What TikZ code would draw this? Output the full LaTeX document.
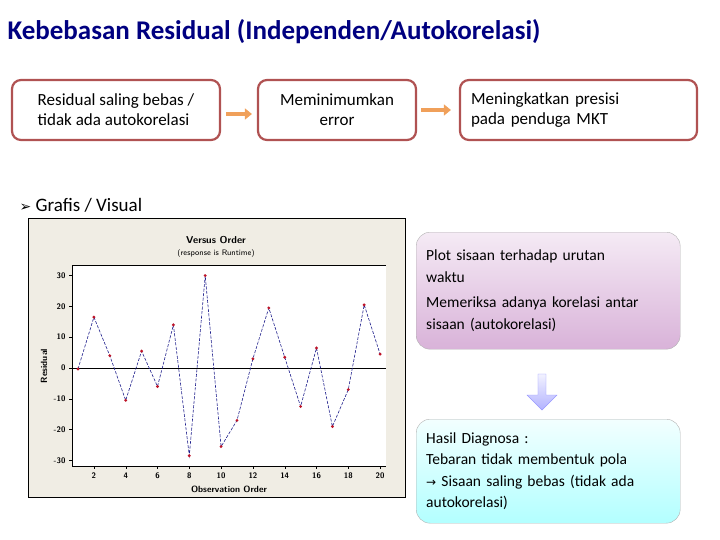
\documentclass[tikz,border=0pt]{standalone}
\usepackage{fontspec}
\setmainfont{Carlito}
\newfontfamily\symfont{DejaVu Sans}
\usetikzlibrary{arrows.meta,positioning,shapes.arrows}
\definecolor{boxred}{RGB}{176,82,82}
\definecolor{arroworange}{RGB}{240,160,90}
\definecolor{chartbg}{RGB}{240,237,228}
\definecolor{dotred}{RGB}{190,20,40}
\definecolor{linenavy}{RGB}{30,30,140}
\begin{document}
\begin{tikzpicture}
		[x=1pt,y=-1pt,
		stepbox/.style={draw=boxred,line width=2.2pt,rounded corners=9pt,fill=white,minimum height=60pt,font=\fontsize{17}{20}\selectfont},
		flowarrow/.style={draw=arroworange,line width=3.5pt,-{Triangle[length=7pt,width=11pt]}},
		tick/.style={font=\fontsize{8}{9}\selectfont\sffamily\bfseries},
		infobox/.style={draw=gray!60,rounded corners=14pt,minimum width=264pt,text width=244pt,align=left,font=\fontsize{15.5}{21.5}\selectfont}]
		\useasboundingbox (0,0) rectangle (720,540);
		
		% title
		\node[anchor=west,font=\fontsize{27}{30}\selectfont\bfseries,text=blue!50!black] (title) at (4,32) {Kebebasan Residual (Independen/Autokorelasi)};
		
		% steps on top
		\node[stepbox,minimum width=208pt,align=left] (s1) at (116,110) {Residual saling bebas /\\tidak ada autokorelasi};
		\node[stepbox,minimum width=158pt,align=center] (s2) at (337,110) {Meminimumkan\\error};
		\node[stepbox,minimum width=237pt,align=left,text width=215pt] (s3) at (578.5,110) {Meningkatkan presisi\\pada penduga MKT};
		\draw[flowarrow] ([xshift=5pt,yshift=-4pt]s1.east) -- ([xshift=-5pt,yshift=-4pt]s2.west);
		\draw[flowarrow] ([xshift=4pt]s2.east) -- ([xshift=-8pt]s3.west);
		
		\node[anchor=west,font=\fontsize{19}{22}\selectfont] (grafis) at (16,205) {{\symfont\fontsize{14}{16}\selectfont ➢} Grafis / Visual};
		
		% chart
		\node[draw,fill=chartbg,minimum width=377pt,minimum height=279pt,anchor=north west,inner sep=0pt] (chart) at (28,218) {};
		\node[draw=none,fill=white,minimum width=314pt,minimum height=201pt,anchor=north west,inner sep=0pt] (plot) at (72,265) {};
		\draw (plot.north west) -- (plot.north east);
		\draw (plot.south west) -- (plot.north west);
		\draw (plot.south west) -- (plot.south east);
		\draw (72,368) -- (386,368);
		\node[font=\fontsize{10}{11}\selectfont\sffamily\bfseries] (vtitle) at (216,240) {Versus Order};
		\node[font=\fontsize{8}{9}\selectfont\sffamily] (vsub) at (216,253) {(response is Runtime)};
		\node[rotate=90,font=\fontsize{9}{10}\selectfont\sffamily\bfseries] (ylab) at (44,366) {Residual};
		\node[font=\fontsize{9}{10}\selectfont\sffamily\bfseries] (xlab) at (229,489) {Observation Order};
		\foreach \v in {-30,-20,...,30}{
			\draw (72,368-3.08*\v) -- (69,368-3.08*\v);
			\node[tick,anchor=east] at (69,368-3.08*\v) {\v};
		}
		\foreach \i in {2,4,...,20}{
			\draw (78+15.9*\i-15.9,466) -- (78+15.9*\i-15.9,469);
			\node[tick,anchor=north] at (78+15.9*\i-15.9,469) {\i};
		}
		\foreach \v [count=\i] in {-0.3,16.5,4,-10.5,5.5,-6,14,-28.5,30,-25.5,-17,3,19.5,3.5,-12.5,6.5,-19,-7,20.5,4.5}
			\coordinate (p\i) at (78+15.9*\i-15.9,368-3.08*\v);
		\draw[linenavy,line width=0.6pt,dash pattern=on 3pt off 1.5pt] (p1) \foreach \i in {2,...,20}{ -- (p\i)};
		\foreach \i in {1,...,20}
			\fill[dotred] (p\i) circle (1.6pt);
		
		% right side
		\node[infobox,top color=violet!8,bottom color=violet!30,anchor=north west,minimum height=117pt] (plotbox) at (416,232) {Plot sisaan terhadap urutan\\waktu\\[4pt]Memeriksa adanya korelasi antar\\sisaan (autokorelasi)};
		\node[single arrow,shape border rotate=270,draw=blue!40,top color=blue!5,bottom color=blue!30,minimum width=30pt,single arrow head extend=6pt,minimum height=36pt,inner sep=2pt] (down) at (542,390) {};
		\node[infobox,top color=cyan!5,bottom color=cyan!30,anchor=north west,minimum height=104pt] (hasil) at (416,419) {Hasil Diagnosa :\\Tebaran tidak membentuk pola\\{\symfont\fontsize{12}{14}\selectfont →} Sisaan saling bebas (tidak ada\\autokorelasi)};
		\end{tikzpicture}
\end{document}
